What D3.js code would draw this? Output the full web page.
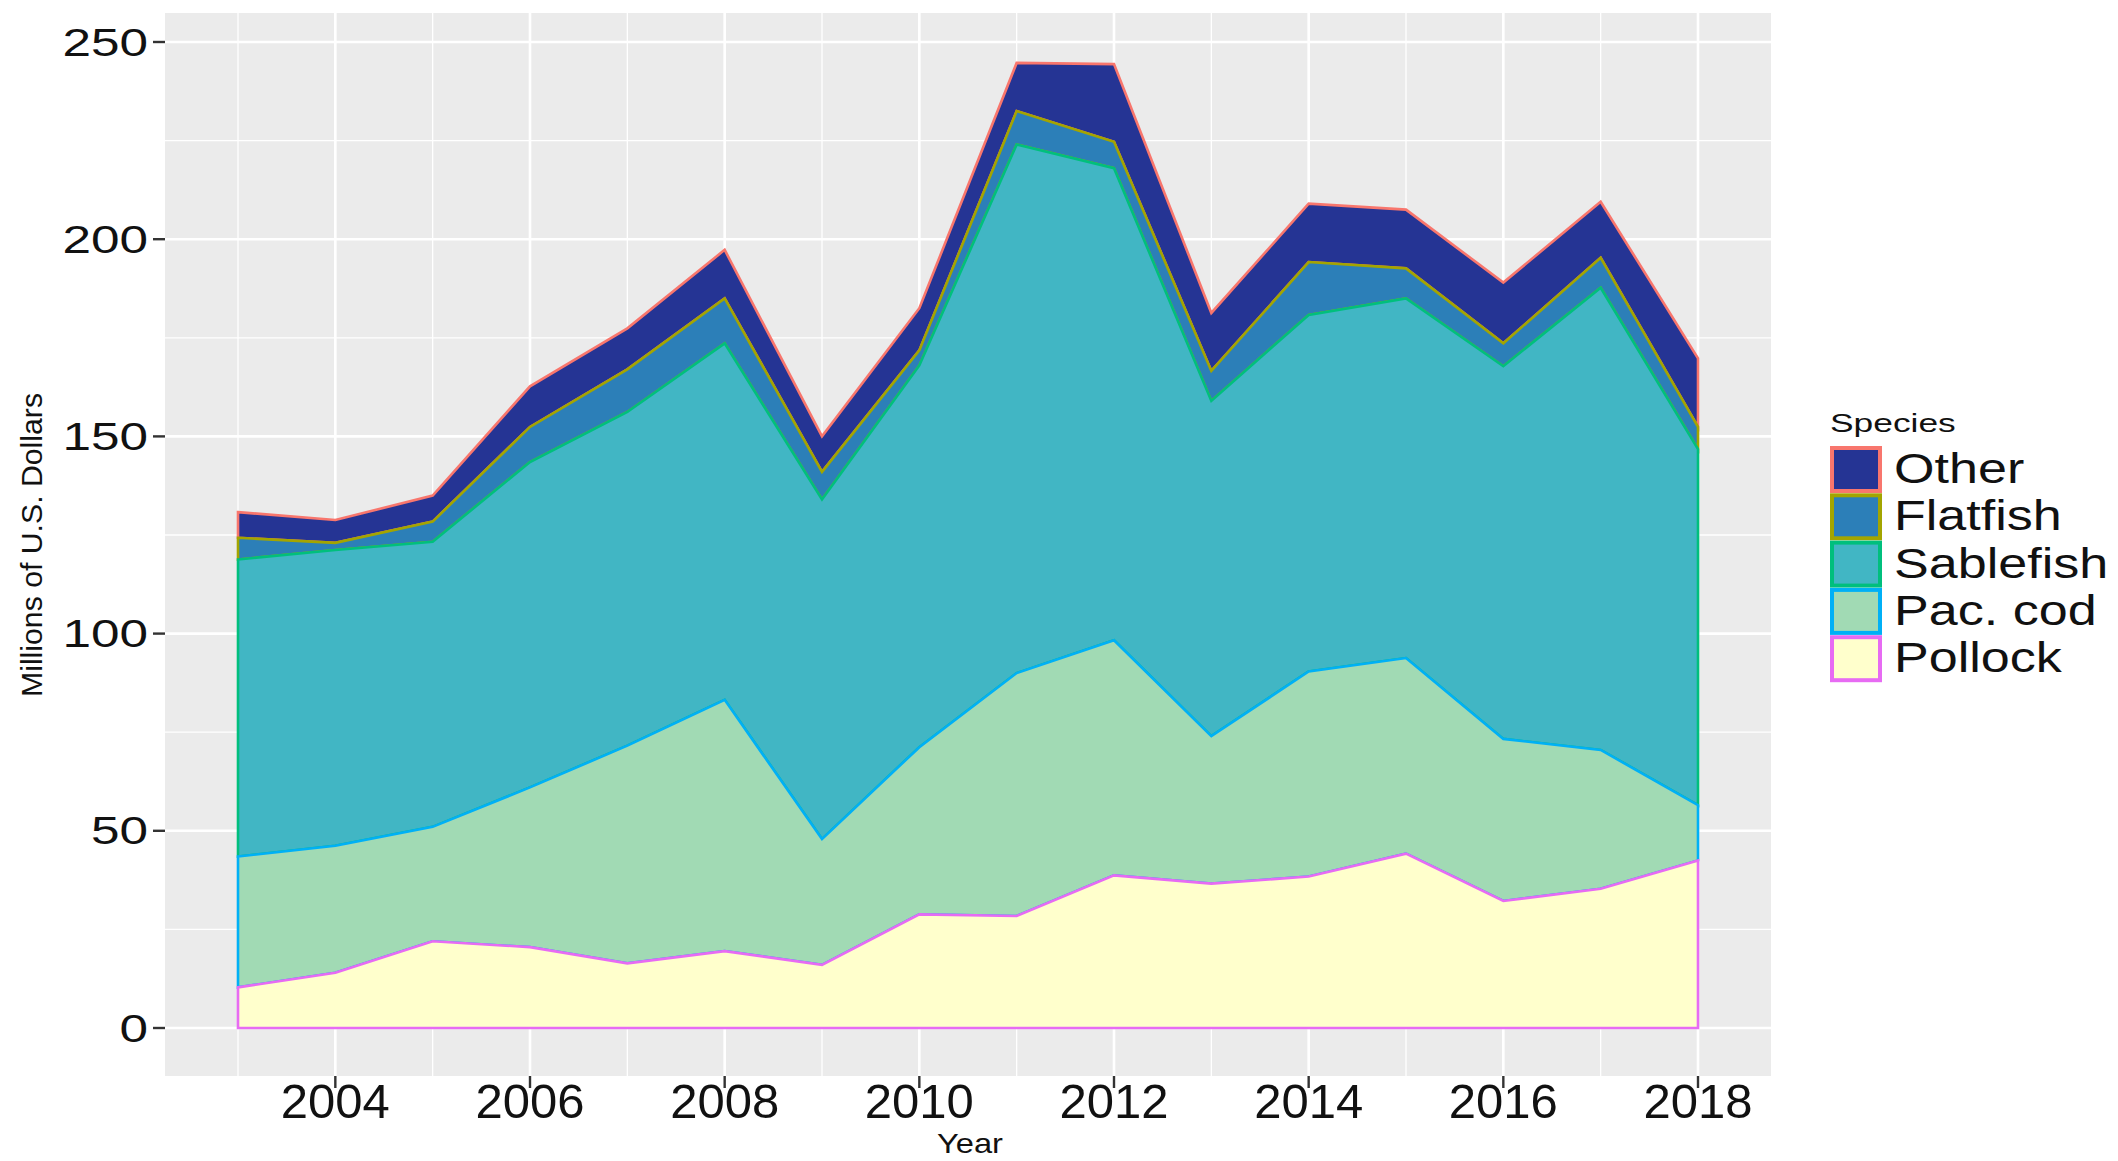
<!DOCTYPE html>
<html>
<head>
<meta charset="utf-8">
<script src="https://cdn.jsdelivr.net/npm/d3@7"></script>
<style>
  body { margin: 0; background: #fff; }
  text { font-family: "Liberation Sans", Arial, sans-serif; }
</style>
</head>
<body>
<div id="chart-area"></div>
<script>
// *********************
// Data (millions of U.S. dollars)
// *********************
const years = [2003,2004,2005,2006,2007,2008,2009,2010,2011,2012,2013,2014,2015,2016,2017,2018];
const pollock   = [10.3,14.0,22.0,20.5,16.4,19.5,16.0,28.8,28.4,38.7,36.6,38.4,44.2,32.2,35.3,42.5];
const pacCod    = [33.2,32.2,29.0,40.5,55.2,63.7,31.9,42.4,61.6,59.6,37.4,52.0,49.6,41.1,35.2,14.0];
const sablefish = [75.3,75.0,72.3,82.5,84.6,90.4,86.1,96.8,134.0,119.7,85.0,90.4,91.2,94.5,117.2,90.3];
const flatfish  = [5.5,1.8,5.1,8.9,10.8,11.4,7.0,3.8,8.5,6.7,7.6,13.4,7.6,5.8,7.6,5.6];
const other     = [6.5,5.8,6.6,10.3,10.4,12.3,9.0,10.7,12.2,19.7,14.7,14.8,14.9,15.4,14.2,17.4];

const species = ["Pollock","Pac. cod","Sablefish","Flatfish","Other"];
const legendOrder = ["Other","Flatfish","Sablefish","Pac. cod","Pollock"];
const xTicks = [2004,2006,2008,2010,2012,2014,2016,2018];
const yTicks = [0,50,100,150,200,250];

const fills   = {"Pollock":"#ffffcc","Pac. cod":"#a1dab4","Sablefish":"#41b6c4","Flatfish":"#2c7fb8","Other":"#253494"};
const strokes = {"Pollock":"#E76BF3","Pac. cod":"#00B0F6","Sablefish":"#00BF7D","Flatfish":"#A3A500","Other":"#F8766D"};

const table = years.map((yr,i) => ({
	year: yr,
	"Pollock": pollock[i],
	"Pac. cod": pacCod[i],
	"Sablefish": sablefish[i],
	"Flatfish": flatfish[i],
	"Other": other[i]
}));

// *********************
// Basic setup SVG
// *********************
const width = 2118;
const height = 1161;
const panel = {left: 165, right: 1771, top: 13, bottom: 1076};

const svg = d3.select("#chart-area")
	.append("svg")
	.attr("width", width)
	.attr("height", height);

svg.append("rect")
	.attr("width", width)
	.attr("height", height)
	.attr("fill", "#fff");

// Scales
const x = d3.scaleLinear()
	.domain([2002.25, 2018.75])
	.range([panel.left, panel.right]);

const y = d3.scaleLinear()
	.domain([0, 250])
	.range([1028, 42]);

// Panel background
svg.append("rect")
	.attr("x", panel.left)
	.attr("y", panel.top)
	.attr("width", panel.right - panel.left)
	.attr("height", panel.bottom - panel.top)
	.attr("fill", "#ebebeb");

// Gridlines (minor then major)
const grid = svg.append("g");
d3.range(25, 260, 50).forEach(v => {
	grid.append("line")
		.attr("x1", panel.left).attr("x2", panel.right)
		.attr("y1", y(v)).attr("y2", y(v))
		.attr("stroke", "#fff").attr("stroke-width", 1.3);
});
d3.range(2003, 2019, 2).forEach(v => {
	grid.append("line")
		.attr("x1", x(v)).attr("x2", x(v))
		.attr("y1", panel.top).attr("y2", panel.bottom)
		.attr("stroke", "#fff").attr("stroke-width", 1.3);
});
yTicks.forEach(v => {
	grid.append("line")
		.attr("x1", panel.left).attr("x2", panel.right)
		.attr("y1", y(v)).attr("y2", y(v))
		.attr("stroke", "#fff").attr("stroke-width", 2.6);
});
xTicks.forEach(v => {
	grid.append("line")
		.attr("x1", x(v)).attr("x2", x(v))
		.attr("y1", panel.top).attr("y2", panel.bottom)
		.attr("stroke", "#fff").attr("stroke-width", 2.6);
});

// *********************
// Stacked areas
// *********************
const stack = d3.stack().keys(species);
const series = stack(table);

const area = d3.area()
	.x(d => x(d.data.year))
	.y0(d => y(d[0]))
	.y1(d => y(d[1]));

// top layer first so lower outlines sit on top
svg.append("g")
	.selectAll("path")
	.data(series.slice().reverse())
	.enter()
	.append("path")
	.attr("d", area)
	.attr("fill", d => fills[d.key])
	.attr("stroke", d => strokes[d.key])
	.attr("stroke-width", 2.6)
	.attr("stroke-linejoin", "miter");

// *********************
// Axes
// *********************
const yAxisGroup = svg.append("g");
yTicks.forEach(v => {
	yAxisGroup.append("line")
		.attr("x1", panel.left - 12).attr("x2", panel.left)
		.attr("y1", y(v)).attr("y2", y(v))
		.attr("stroke", "#333").attr("stroke-width", 2.4);
	yAxisGroup.append("text")
		.attr("transform", "translate(" + (panel.left - 17) + "," + (y(v) + 13.5) + ") scale(1.35,1)")
		.attr("text-anchor", "end")
		.attr("font-size", "38px")
		.attr("fill", "#111")
		.text(v);
});

const xAxisGroup = svg.append("g");
xTicks.forEach(v => {
	xAxisGroup.append("line")
		.attr("x1", x(v)).attr("x2", x(v))
		.attr("y1", panel.bottom).attr("y2", panel.bottom + 12)
		.attr("stroke", "#333").attr("stroke-width", 2.4);
	xAxisGroup.append("text")
		.attr("x", x(v))
		.attr("y", 1118)
		.attr("text-anchor", "middle")
		.attr("font-size", "49px")
		.attr("fill", "#111")
		.text(v);
});

// Axis labels
svg.append("text")
	.attr("x", 970)
	.attr("y", 1153)
	.attr("text-anchor", "middle")
	.attr("font-size", "28px")
	.attr("textLength", 66)
	.attr("lengthAdjust", "spacingAndGlyphs")
	.attr("fill", "#111")
	.text("Year");

svg.append("text")
	.attr("transform", "translate(42,545) rotate(-90)")
	.attr("text-anchor", "middle")
	.attr("font-size", "30px")
	.attr("textLength", 304)
	.attr("lengthAdjust", "spacingAndGlyphs")
	.attr("fill", "#111")
	.text("Millions of U.S. Dollars");

// *********************
// Legend
// *********************
const legend = svg.append("g")
	.attr("transform", "translate(1830,0)");

legend.append("text")
	.attr("transform", "translate(0,432) scale(1.36,1)")
	.attr("font-size", "26px")
	.attr("fill", "#111")
	.text("Species");

legendOrder.forEach((name, i) => {
	const top = 446 + i * 47.3;
	legend.append("rect")
		.attr("x", 2)
		.attr("y", top + 2)
		.attr("width", 48)
		.attr("height", 43)
		.attr("fill", fills[name])
		.attr("stroke", strokes[name])
		.attr("stroke-width", 4);
	legend.append("text")
		.attr("transform", "translate(64," + (top + 37) + ") scale(1.24,1)")
		.attr("font-size", "42px")
		.attr("fill", "#111")
		.text(name);
});
</script>
</body>
</html>
